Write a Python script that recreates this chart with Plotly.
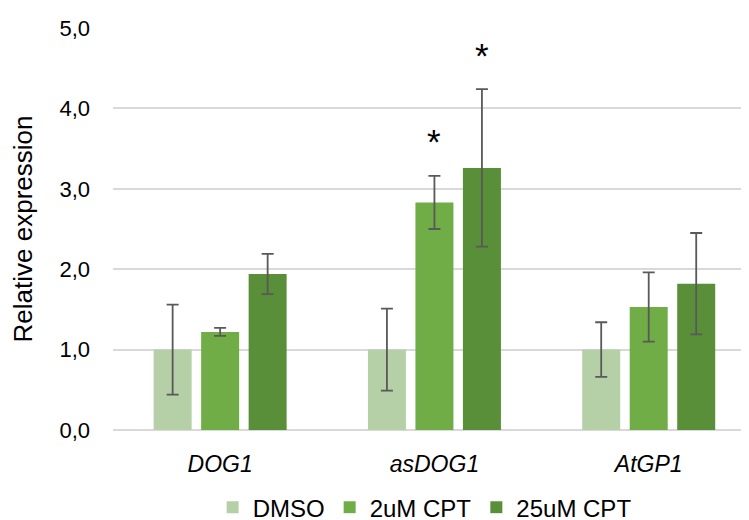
import plotly.graph_objects as go

genes = ["DOG1", "asDOG1", "AtGP1"]
gene_labels = ["<i>DOG1</i>", "<i>asDOG1</i>", "<i>AtGP1</i>"]
series_names = ["DMSO", "2uM CPT", "25uM CPT"]
dmso = [1.0, 1.0, 1.0]
dmso_err = [0.56, 0.51, 0.34]
cpt2 = [1.22, 2.83, 1.53]
cpt2_err = [0.05, 0.33, 0.43]
cpt25 = [1.94, 3.26, 1.82]
cpt25_err = [0.25, 0.98, 0.63]
# significance markers: (series index, gene index)
signif = [(1, 1), (2, 1)]
y_ticks = [0, 1, 2, 3, 4, 5]
y_tick_labels = ["0,0", "1,0", "2,0", "3,0", "4,0", "5,0"]

colors = ["#b5cfa7", "#70ad47", "#5a8f3a"]
values = [dmso, cpt2, cpt25]
errors = [dmso_err, cpt2_err, cpt25_err]

FONT = "Liberation Sans, Arial, sans-serif"
BARGAP = 0.335
BARGROUPGAP = 0.2

fig = go.Figure()
for name, v, e, c in zip(series_names, values, errors, colors):
    fig.add_trace(go.Bar(
        x=list(range(len(genes))), y=v, name=name,
        marker=dict(color=c, line=dict(width=0)),
        error_y=dict(type="data", array=e, visible=True, color="#595959",
                     thickness=1.8, width=6),
    ))

slot = (1 - BARGAP) / len(series_names)
for si, gi in signif:
    xpos = gi + (si - (len(series_names) - 1) / 2) * slot
    ytop = values[si][gi] + errors[si][gi]
    fig.add_annotation(x=xpos, y=ytop, xref="x", yref="y", text="*",
                       showarrow=False, yshift=34,
                       font=dict(family=FONT, size=35, color="#000000"))

fig.update_layout(
    width=741, height=512,
    margin=dict(l=105, r=0, t=20, b=90, autoexpand=False),
    paper_bgcolor="white", plot_bgcolor="white",
    barmode="group", bargap=BARGAP, bargroupgap=BARGROUPGAP,
    font=dict(family=FONT, size=22, color="#000000"),
    showlegend=True,
    legend=dict(orientation="h", x=0.49, xanchor="center", y=-0.137, yanchor="top",
                font=dict(size=24, color="#000000"), itemwidth=30,
                traceorder="normal"),
    xaxis=dict(tickmode="array", tickvals=list(range(len(genes))), ticktext=gene_labels,
               range=[-0.5, 2.468], showgrid=False, showline=False, zeroline=False,
               automargin=False,
               ticks="", tickfont=dict(size=23), ticklabelstandoff=18),
    yaxis=dict(range=[0, 5], tickmode="array", tickvals=y_ticks, ticktext=y_tick_labels,
               showgrid=True, gridcolor="#d9d9d9", gridwidth=1.5, zeroline=True,
               zerolinecolor="#d9d9d9", zerolinewidth=1.5, showline=False, ticks="",
               automargin=False,
               tickfont=dict(size=22), ticklabelstandoff=22,
               title=dict(text="Relative expression", font=dict(size=26), standoff=22)),
)

fig.write_html("out.html")
